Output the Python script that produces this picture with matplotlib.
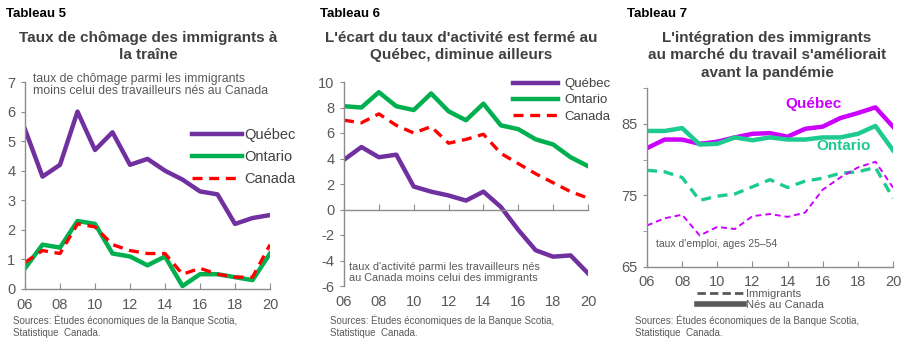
import matplotlib
matplotlib.use("Agg")
import matplotlib.pyplot as plt
from matplotlib.lines import Line2D

plt.rcParams["font.family"] = ["Liberation Sans", "DejaVu Sans"]
plt.rcParams["axes.unicode_minus"] = False
NARROW = ["Liberation Sans Narrow", "Liberation Sans", "DejaVu Sans"]

# ---- donnees ----
annees = list(range(2006, 2021))
etiq_annees = ["06", "08", "10", "12", "14", "16", "18", "20"]

# Tableau 5 : ecart du taux de chomage (immigrants - nes au Canada)
chom_qc = [5.4, 3.8, 4.2, 6.0, 4.7, 5.3, 4.2, 4.4, 4.0, 3.7, 3.3, 3.2, 2.2, 2.4, 2.5]
chom_on = [0.7, 1.5, 1.4, 2.3, 2.2, 1.2, 1.1, 0.8, 1.1, 0.1, 0.5, 0.5, 0.4, 0.3, 1.2]
chom_ca = [0.9, 1.3, 1.2, 2.2, 2.1, 1.5, 1.3, 1.2, 1.2, 0.5, 0.7, 0.5, 0.4, 0.4, 1.5]

# Tableau 6 : ecart du taux d'activite (nes au Canada - immigrants)
act_qc = [3.9, 4.9, 4.1, 4.3, 1.8, 1.4, 1.1, 0.7, 1.4, 0.2, -1.6, -3.2, -3.7, -3.6, -5.0]
act_on = [8.1, 8.0, 9.2, 8.1, 7.8, 9.1, 7.7, 7.0, 8.3, 6.6, 6.3, 5.5, 5.1, 4.1, 3.4]
act_ca = [7.0, 6.8, 7.5, 6.6, 6.0, 6.5, 5.2, 5.5, 5.9, 4.4, 3.6, 2.8, 2.1, 1.4, 0.9]

# Tableau 7 : taux d'emploi 25-54 ans
emp_qc_nes = [81.6, 82.8, 82.8, 82.2, 82.5, 83.1, 83.6, 83.7, 83.2, 84.3, 84.6, 85.8, 86.5, 87.3, 84.6]
emp_on_nes = [84.0, 84.0, 84.4, 82.1, 82.2, 83.1, 82.7, 83.1, 82.8, 82.8, 83.1, 83.1, 83.6, 84.7, 81.3]
emp_on_imm = [78.5, 78.3, 77.5, 74.3, 74.9, 75.2, 76.2, 77.2, 76.1, 77.0, 77.4, 78.1, 78.3, 78.9, 74.6]
emp_qc_imm = [70.8, 71.8, 72.3, 69.4, 70.6, 70.3, 72.1, 72.4, 72.0, 72.6, 75.8, 77.5, 78.9, 79.7, 76.1]

VIOLET = "#7030A0"
VERT = "#00B050"
ROUGE = "#FF0000"
MAGENTA = "#CC00FF"
TURQ = "#1DCB8E"
GRIS_AXE = "#8C8C8C"
GRIS_TXT = "#595959"
GRIS_TITRE = "#404040"

W, H = 910, 345
fig = plt.figure(figsize=(W / 100, H / 100), dpi=100)
fig.patch.set_facecolor("white")


def px_axes(x0, y0, x1, y1):
    # rectangle en pixels (haut-gauche, bas-droite)
    return fig.add_axes([x0 / W, 1 - y1 / H, (x1 - x0) / W, (y1 - y0) / H])


def fx(x):
    return x / W


def fy(y):
    return 1 - y / H


def style_axe(ax):
    for s in ["top", "right"]:
        ax.spines[s].set_visible(False)
    for s in ["left", "bottom"]:
        ax.spines[s].set_color(GRIS_AXE)
        ax.spines[s].set_linewidth(1.0)
    ax.set_xlim(2006, 2020)
    ax.set_xticks(annees[::2])
    ax.tick_params(axis="x", direction="in", length=4, color=GRIS_AXE,
                   labelbottom=False)
    ax.tick_params(axis="y", direction="out", length=3, color=GRIS_AXE,
                   labelsize=10.5, labelcolor=GRIS_TXT, pad=4)
    ax.tick_params(axis="y", which="minor", direction="out", length=3,
                   color=GRIS_AXE)
    for yr, lab in zip(annees[::2], etiq_annees):
        ax.text(yr, -0.045, lab, transform=ax.get_xaxis_transform(),
                ha="center", va="top", fontsize=10.5, color=GRIS_TXT)
    ax.patch.set_alpha(0)


def entete(x, titre, xc, lignes_y, texte_titre, src_x):
    fig.text(fx(x), fy(14), titre, fontsize=9.5, fontweight="bold",
             color="black", family=NARROW, va="center")
    for y, t in zip(lignes_y, texte_titre):
        fig.text(fx(xc), fy(y), t, fontsize=11, fontweight="bold",
                 color=GRIS_TITRE, ha="center", va="center")
    fig.text(fx(src_x), fy(320), "Sources: Études économiques de la Banque Scotia,",
             fontsize=7, color=GRIS_TXT, family=NARROW, va="center")
    fig.text(fx(src_x), fy(333), "Statistique  Canada.",
             fontsize=7, color=GRIS_TXT, family=NARROW, va="center")


# ---- Tableau 5 ----
ax1 = px_axes(25, 82, 270, 289)
style_axe(ax1)
ax1.set_ylim(0, 7)
ax1.set_yticks(range(0, 8))
ax1.plot(annees, chom_qc, color=VIOLET, lw=3.2, label="Québec")
ax1.plot(annees, chom_on, color=VERT, lw=3.2, label="Ontario")
ax1.plot(annees, chom_ca, color=ROUGE, lw=2.4, ls=(0, (3, 2)), label="Canada")
ax1.legend(loc="upper left", bbox_to_anchor=(fx(192), fy(128)),
           bbox_transform=fig.transFigure, frameon=False, fontsize=10.5,
           handlelength=3.4, handletextpad=0.2, labelspacing=0.55,
           borderpad=0, borderaxespad=0, labelcolor=GRIS_TITRE)
fig.text(fx(33), fy(79), "taux de chômage parmi les immigrants",
         fontsize=8.8, color=GRIS_TXT, va="center")
fig.text(fx(33), fy(91), "moins celui des travailleurs nés au Canada",
         fontsize=8.8, color=GRIS_TXT, va="center")
entete(6, "Tableau 5", 148, [38, 55],
       ["Taux de chômage des immigrants à", "la traîne"], 13)

# ---- Tableau 6 ----
ax2 = px_axes(344, 82, 588, 286)
style_axe(ax2)
ax2.set_ylim(-6, 10)
ax2.set_yticks(range(-6, 11, 2))
ax2.spines["bottom"].set_position(("data", 0))
ax2.plot(annees, act_qc, color=VIOLET, lw=3.2, label="Québec")
ax2.plot(annees, act_on, color=VERT, lw=3.2, label="Ontario")
ax2.plot(annees, act_ca, color=ROUGE, lw=2.4, ls=(0, (3, 2)), label="Canada")
ax2.legend(loc="upper left", bbox_to_anchor=(fx(513), fy(78)),
           bbox_transform=fig.transFigure, frameon=False,
           prop={"family": NARROW, "size": 9.5},
           handlelength=3.4, handletextpad=0.5, labelspacing=0.3,
           borderpad=0, borderaxespad=0, labelcolor=GRIS_TITRE)
fig.text(fx(349), fy(267), "taux d'activité parmi les travailleurs nés",
         fontsize=7.8, color=GRIS_TXT, family=NARROW, va="center")
fig.text(fx(349), fy(278), "au Canada moins celui des immigrants",
         fontsize=7.8, color=GRIS_TXT, family=NARROW, va="center")
entete(320, "Tableau 6", 461, [38, 55],
       ["L'écart du taux d'activité est fermé au", "Québec, diminue ailleurs"], 330)

# ---- Tableau 7 ----
ax3 = px_axes(647, 88, 893, 267)
style_axe(ax3)
ax3.set_ylim(65, 90)
ax3.set_yticks([65, 75, 85])
ax3.set_yticks([70, 80, 90], minor=True)
ax3.plot(annees, emp_qc_nes, color=MAGENTA, lw=3.2)
ax3.plot(annees, emp_on_nes, color=TURQ, lw=3.2)
ax3.plot(annees, emp_on_imm, color=TURQ, lw=2.4, ls=(0, (3, 2)))
ax3.plot(annees, emp_qc_imm, color=MAGENTA, lw=1.4, ls=(0, (3, 2)))
ax3.text(2015.5, 87.8, "Québec", color=MAGENTA, fontsize=11,
         fontweight="bold", ha="center", va="center")
ax3.text(2017.2, 81.9, "Ontario", color=TURQ, fontsize=11,
         fontweight="bold", ha="center", va="center")
ax3.text(2006.5, 68.2, "taux d'emploi, ages 25–54", fontsize=7.5,
         color=GRIS_TXT, family=NARROW, va="center")
poignees = [Line2D([], [], color="#595959", lw=2, ls=(0, (3, 1.5))),
            Line2D([], [], color="#595959", lw=4)]
ax3.legend(poignees, ["Immigrants", "Nés au Canada"], loc="upper left",
           bbox_to_anchor=(fx(697), fy(289)), bbox_transform=fig.transFigure,
           frameon=False, prop={"family": NARROW, "size": 8},
           handlelength=4.2, handletextpad=0.2, labelspacing=0.05,
           borderpad=0, borderaxespad=0, labelcolor=GRIS_TXT)
entete(627, "Tableau 7", 767, [38, 55, 73],
       ["L'intégration des immigrants", "au marché du travail s'améliorait",
        "avant la pandémie"], 635)

fig.savefig("out.png", dpi=100, facecolor="white")
